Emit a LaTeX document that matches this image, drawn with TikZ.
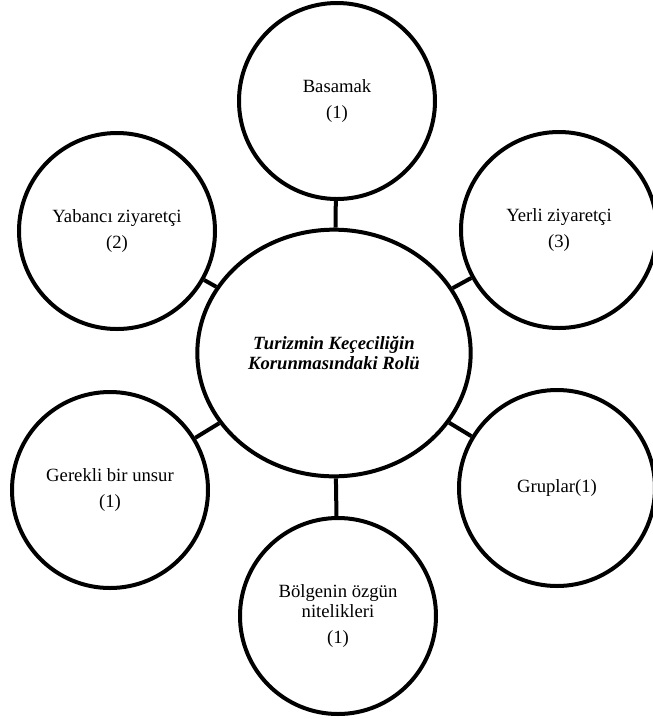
\documentclass[tikz,border=0pt]{standalone}
\usepackage{fontspec}
\setmainfont{Liberation Serif}
\usetikzlibrary{shapes.geometric,positioning}

\begin{document}
\begin{tikzpicture}[x=0.75pt,y=-0.75pt,
		konu/.style={draw,circle,line width=3pt,minimum size=147pt,inner sep=0pt,
			align=center,font=\fontsize{14}{15}\selectfont},
		ana/.style={draw,ellipse,line width=3pt,minimum width=205pt,minimum height=185pt,
			inner sep=0pt,align=center,font=\fontsize{14}{15}\selectfont\bfseries\itshape},
		bag/.style={line width=3pt}
		]
			\useasboundingbox (0,0) rectangle (653,719);
			% orta
			\node[ana] (rol) at (334,353) {Turizmin Keçeciliğin\\Korunmasındaki Rolü};
			% etraftaki daireler
			\node[konu] (basamak) at (337,101) {Basamak\\[5pt](1)};
			\node[konu] (yabanci) at (117,231) {Yabancı ziyaretçi\\[5pt](2)};
			\node[konu] (yerli) at (559,230) {Yerli ziyaretçi\\[5pt](3)};
			\node[konu] (gerekli) at (110,490) {Gerekli bir unsur\\[5pt](1)};
			\node[konu] (gruplar) at (557,488) {Gruplar(1)};
			\node[konu] (bolge) at (338,616) {Bölgenin özgün\\nitelikleri\\[5pt](1)};
			% baglar
			\draw[bag] (rol) -- (basamak);
			\draw[bag] (rol) -- (yabanci);
			\draw[bag] (rol) -- (yerli);
			\draw[bag] (rol) -- (gerekli);
			\draw[bag] (rol) -- (gruplar);
			\draw[bag] (rol) -- (bolge);
		\end{tikzpicture}
\end{document}
